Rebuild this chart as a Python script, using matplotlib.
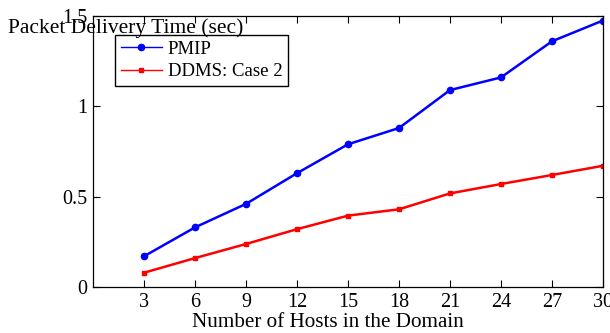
import numpy as np
import matplotlib.pyplot as plt

plt.rcParams['font.family'] = ['Liberation Serif', 'DejaVu Serif']

hosts = [3, 6, 9, 12, 15, 18, 21, 24, 27, 30]
pmip = [0.17, 0.33, 0.46, 0.63, 0.79, 0.88, 1.09, 1.16, 1.36, 1.475]
ddms = [0.079, 0.16, 0.238, 0.32, 0.395, 0.43, 0.518, 0.57, 0.62, 0.671]

fig = plt.figure(figsize=(6.1, 3.33), dpi=100)
ax = fig.add_axes([93/610, 1 - 287/333, 510/610, 271/333])

ax.plot(hosts, pmip, color='#0000ff', lw=1.8, marker='o', ms=4.5, label='PMIP')
ax.plot(hosts, ddms, color='#ff0000', lw=1.8, marker='s', ms=3.5, label='DDMS: Case 2')

ax.set_xlim(0, 30)
ax.set_ylim(0, 1.5)
ax.set_xticks(hosts)
ax.set_yticks([0, 0.5, 1, 1.5])
ax.set_yticklabels(['0', '0.5', '1', '1.5'])
ax.tick_params(direction='in', top=True, right=True, labelsize=14.5, length=5, width=0.8, pad=4)
for s in ax.spines.values():
    s.set_linewidth(0.9)

ax.set_xlabel('Number of Hosts in the Domain', fontsize=15.2)
ax.xaxis.set_label_coords((328 - 93) / 510, -0.095)
fig.text(8/610, 1 - 33/333, 'Packet Delivery Time (sec)', fontsize=15.5, va='baseline', ha='left')

leg = ax.legend(loc='upper left', bbox_to_anchor=(22/510, (287-35)/271), borderaxespad=0,
                fancybox=False, edgecolor='black', framealpha=1, fontsize=13.5,
                handlelength=2.2, borderpad=0.3, labelspacing=0.3, handletextpad=0.3)
leg.get_frame().set_linewidth(1.0)
for l in leg.get_lines():
    l.set_linewidth(1.0)

fig.savefig('out.png', dpi=100)
